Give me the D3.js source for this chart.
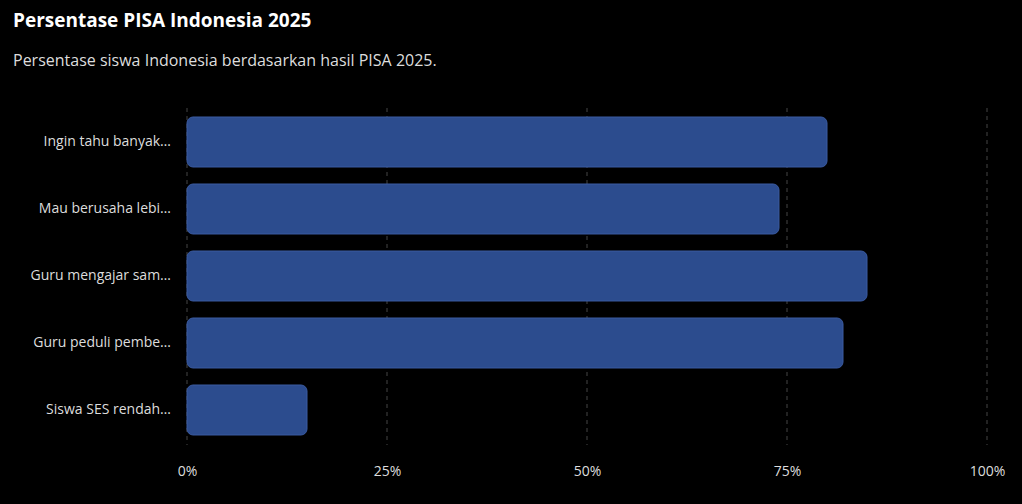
<!DOCTYPE html><html><head><meta charset="utf-8"><script src="https://cdn.jsdelivr.net/npm/d3@7"></script>
<style>body{margin:0;background:#000;font-family:"Open Sans","Noto Sans",sans-serif}</style></head><body><svg id="c" width="1022" height="504"></svg><script>
const categories=["Ingin tahu banyak…","Mau berusaha lebi…","Guru mengajar sam…","Guru peduli pembe…","Siswa SES rendah…"];
const values=[80,74,85,82,15];
const ticks=[0,25,50,75,100];
const svg=d3.select("#c");
svg.append("rect").attr("width",1022).attr("height",504).attr("fill","#000");
svg.append("text").attr("x",13).attr("y",27).attr("fill","#fff").attr("font-size",19).attr("font-weight",700).text("Persentase PISA Indonesia 2025");
svg.append("text").attr("x",13).attr("y",66).attr("fill","#ddd").attr("font-size",16).text("Persentase siswa Indonesia berdasarkan hasil PISA 2025.");
const x=d3.scaleLinear().domain([0,100]).range([187,987]);
const y=d3.scaleBand().domain(categories).range([108.5,443.5]).paddingInner(0.254).paddingOuter(0.127);
svg.append("g").selectAll("line").data(ticks).join("line").attr("x1",d=>x(d)).attr("x2",d=>x(d)).attr("y1",108).attr("y2",445).attr("stroke","#444").attr("stroke-dasharray","4,4");
svg.append("g").selectAll("rect").data(values).join("rect").attr("x",x(0)).attr("y",(d,i)=>y(categories[i])).attr("width",d=>x(d)-x(0)).attr("height",y.bandwidth()).attr("rx",6).attr("fill","#2c4c8e").attr("stroke","#3a5aa0").attr("stroke-width",1);
const ax=svg.append("g").attr("transform","translate(0,463)").call(d3.axisBottom(x).tickValues(ticks).tickFormat(d=>d+"%").tickSize(0));
ax.select(".domain").remove();ax.selectAll("text").attr("fill","#ddd").attr("font-size",14).attr("font-family","Open Sans");
const ay=svg.append("g").attr("transform","translate(174,0)").call(d3.axisLeft(y).tickSize(0));
ay.select(".domain").remove();ay.selectAll("text").attr("fill","#ddd").attr("font-size",14).attr("font-family","Open Sans");
</script></body></html>
